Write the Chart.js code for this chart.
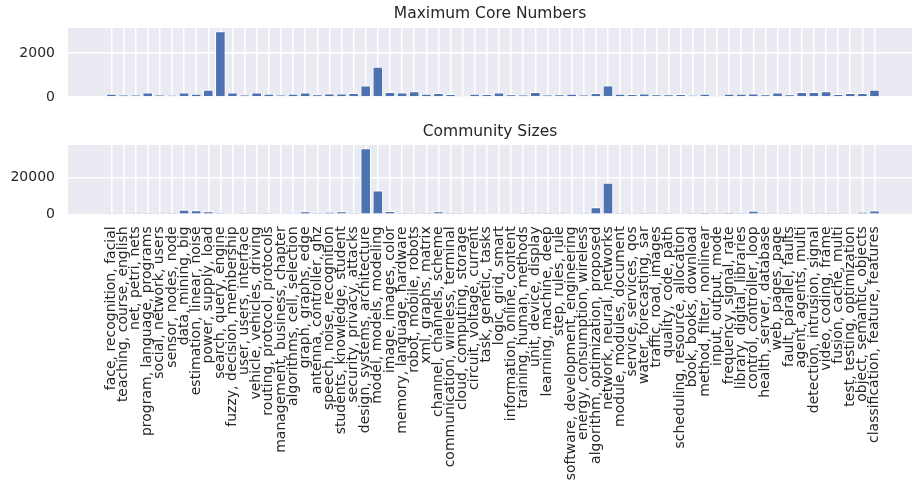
<!DOCTYPE html>
<html>
<head>
<meta charset="utf-8">
<title>Maximum Core Numbers and Community Sizes</title>
<script src="https://cdn.jsdelivr.net/npm/chart.js@4.4.0/dist/chart.umd.min.js"></script>
<style>
  html, body { margin: 0; padding: 0; background: #ffffff; }
  #wrap { position: relative; width: 915px; height: 491px; overflow: hidden; }
  canvas { position: absolute; left: 0; }
  #coreCanvas { top: 0; }
  #sizeCanvas { top: 115px; }
</style>
</head>
<body>
<div id="wrap">
  <canvas id="coreCanvas" width="915" height="110"></canvas>
  <canvas id="sizeCanvas" width="915" height="376"></canvas>
</div>
<script>
// Topic communities, named by their three top keywords
const categories = [
  "face, recognition, facial", "teaching, course, english", "net, petri, nets",
  "program, language, programs", "social, network, users", "sensor, nodes, node",
  "data, mining, big", "estimation, linear, noise", "power, supply, load",
  "search, query, engine", "fuzzy, decision, membership", "user, users, interface",
  "vehicle, vehicles, driving", "routing, protocol, protocols", "management, business, chapter",
  "algorithms, cell, selection", "graph, graphs, edge", "antenna, controller, ghz",
  "speech, noise, recognition", "students, knowledge, student", "security, privacy, attacks",
  "design, systems, architecture", "model, models, modeling", "image, images, color",
  "memory, language, hardware", "robot, mobile, robots", "xml, graphs, matrix",
  "channel, channels, scheme", "communication, wireless, terminal", "cloud, computing, storage",
  "circuit, voltage, current", "task, genetic, tasks", "logic, grid, smart",
  "information, online, content", "training, human, methods", "unit, device, display",
  "learning, machine, deep", "step, rules, rule", "software, development, engineering",
  "energy, consumption, wireless", "algorithm, optimization, proposed", "network, neural, networks",
  "module, modules, document", "service, services, qos", "water, forecasting, sar",
  "traffic, road, images", "quality, code, path", "scheduling, resource, allocation",
  "book, books, download", "method, filter, nonlinear", "input, output, mode",
  "frequency, signal, rate", "library, digital, libraries", "control, controller, loop",
  "health, server, database", "web, pages, page", "fault, parallel, faults",
  "agent, agents, multi", "detection, intrusion, signal", "video, coding, frame",
  "fusion, cache, multi", "test, testing, optimization", "object, semantic, objects",
  "classification, feature, features"
];

// Maximum k-core number reached inside each community
const maxCoreNumbers = [
  150, 105, 105, 200, 105, 90, 200, 150, 335, 3000,
  200, 105, 200, 150, 105, 150, 210, 120, 165, 165,
  180, 520, 1380, 230, 200, 260, 150, 180, 135, 60,
  150, 140, 200, 120, 105, 230, 105, 120, 150, 105,
  180, 530, 150, 135, 165, 120, 120, 135, 90, 150,
  60, 150, 150, 165, 120, 210, 120, 230, 230, 260,
  135, 180, 180, 335
];

// Number of members in each community
const communitySizes = [
  300, 300, 100, 800, 150, 100, 2500, 2200, 1700, 150,
  600, 100, 200, 100, 400, 300, 1600, 100, 1200, 1600,
  150, 36000, 13000, 1800, 700, 700, 200, 1700, 150, 100,
  300, 300, 600, 400, 100, 700, 100, 100, 500, 100,
  3800, 17200, 150, 300, 100, 150, 100, 400, 100, 1000,
  100, 900, 100, 2000, 100, 300, 100, 600, 200, 700,
  100, 500, 1300, 2100
];

// Y tick values for each panel
const coreTicks = [0, 2000];
const sizeTicks = [0, 20000];

const TEXT = "#262626";
const FONT = "'DejaVu Sans', 'Liberation Sans', sans-serif";
const BAR = "#4C72B0";
const PANEL_BG = "#EAEAF2";

// Paints the grey panel behind the grid
const panelBackground = {
  id: "panelBackground",
  beforeDraw(chart) {
    const { ctx, chartArea: a } = chart;
    ctx.save();
    ctx.fillStyle = PANEL_BG;
    ctx.fillRect(a.left, a.top, a.right - a.left, a.bottom - a.top);
    ctx.restore();
  }
};

function points(values) {
  return values.map((v, i) => ({ x: i, y: v }));
}

function makePanel(canvasId, title, values, yTicks, yMax, showLabels, titlePad, xAxisHeight) {
  return new Chart(document.getElementById(canvasId), {
    type: "bar",
    data: {
      datasets: [{
        data: points(values),
        backgroundColor: BAR,
        borderColor: "#ffffff",
        borderWidth: 1,
        barPercentage: 0.87,
        categoryPercentage: 1.0
      }]
    },
    options: {
      responsive: false,
      animation: false,
      devicePixelRatio: 1,
      layout: { padding: { left: 0, right: 3, top: 0, bottom: 0 } },
      plugins: {
        legend: { display: false },
        tooltip: { enabled: false },
        title: {
          display: true,
          fullSize: false,
          text: title,
          color: TEXT,
          font: { family: FONT, size: 15.5, weight: "normal", lineHeight: 1.2 },
          padding: titlePad
        }
      },
      scales: {
        x: {
          type: "linear",
          offset: false,
          min: -3.58,
          max: categories.length + 2.1,
          afterBuildTicks(scale) {
            scale.ticks = categories.map((_, i) => ({ value: i }));
          },
          afterFit(scale) {
            scale.height = xAxisHeight;
            scale.paddingLeft = 0;
            scale.paddingRight = 0;
          },
          grid: { color: "#ffffff", lineWidth: 1.5, drawTicks: false, offset: false },
          border: { display: false },
          ticks: {
            display: showLabels,
            autoSkip: false,
            minRotation: 90,
            maxRotation: 90,
            padding: 12,
            color: TEXT,
            font: { family: FONT, size: 14 },
            callback: (value) => categories[value]
          }
        },
        y: {
          min: 0,
          max: yMax,
          afterBuildTicks(scale) {
            scale.ticks = yTicks.map(v => ({ value: v }));
          },
          afterFit(scale) {
            scale.width = 68;
            scale.paddingTop = 0;
            scale.paddingBottom = 0;
          },
          grid: { color: "#ffffff", lineWidth: 1.5, drawTicks: false },
          border: { display: false },
          ticks: {
            padding: 13,
            color: TEXT,
            font: { family: FONT, size: 14 },
            callback: (value) => String(value)
          }
        }
      }
    },
    plugins: [panelBackground]
  });
}

makePanel("coreCanvas", "Maximum Core Numbers", maxCoreNumbers, coreTicks,
  3150, false, { top: 4.7, bottom: 4.7 }, 13);
makePanel("sizeCanvas", "Community Sizes", communitySizes, sizeTicks,
  37800, true, { top: 7.4, bottom: 4 }, 276.7);
</script>
</body>
</html>
